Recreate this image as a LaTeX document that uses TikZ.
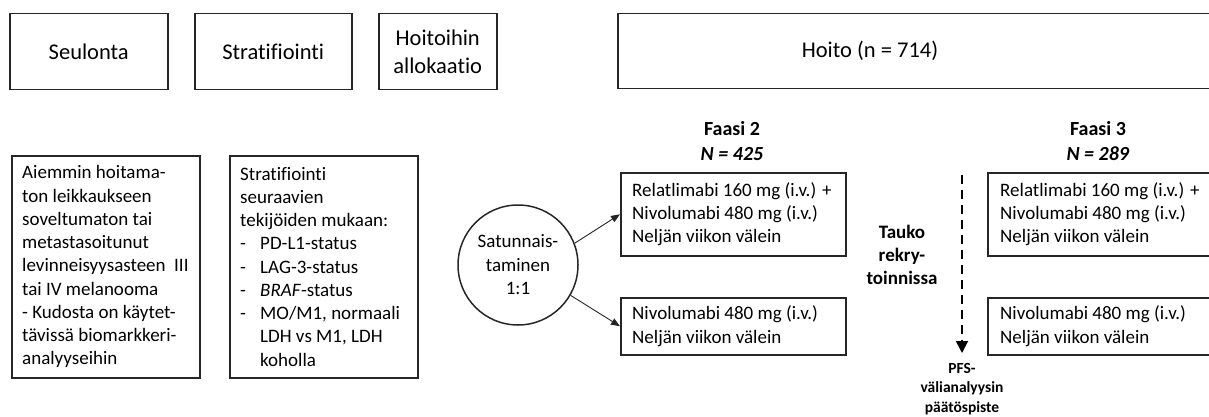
\documentclass[tikz,border=0pt]{standalone}
\usepackage{fontspec}
\setmainfont[Ligatures={NoCommon}]{Carlito}
\usetikzlibrary{arrows.meta,calc}
\begin{document}
\begin{tikzpicture}[x=1pt,y=-1pt,
  box/.style={draw=black!85, line width=1.5pt, inner sep=0},
  hdr/.style={font=\fontsize{22.5}{28}\selectfont, align=center},
  body/.style={font=\fontsize{19}{23.25}\selectfont, align=left, inner sep=0, anchor=west},
  phase/.style={font={\fontsize{20}{25}\selectfont\bfseries}, align=center},
  conn/.style={draw=black!85, line width=0.9pt, -{Triangle[length=9pt,width=7pt]}},
  dashconn/.style={draw=black, line width=1.8pt, dash pattern=on 9pt off 6pt, -{Triangle[length=12pt,width=12pt]}}
]
\useasboundingbox (0,0) rectangle (1209,417);
\clip (0,0) rectangle (1209,417);
% header boxes
\node[box, hdr, minimum width=158, minimum height=76, anchor=north west] (seul) at (9,13) {Seulonta};
\node[box, hdr, minimum width=157, minimum height=76, anchor=north west] (strat) at (194,13) {Stratifiointi};
\node[box, hdr, minimum width=118, minimum height=76, anchor=north west] (alloc) at (378,13) {Hoitoihin\\allokaatio};
\node[box, minimum width=620, minimum height=75, anchor=north west] (hoito) at (617,13) {};
\node[hdr] (hoitolbl) at (870,51) {Hoito (n = 714)};
% left boxes
\node[box, minimum width=188, minimum height=222, anchor=north west] (crit) at (11,155) {};
\node[body] (crittxt) at ($(crit.west)+(11,0)$) {Aiemmin hoitama-\\ton leikkaukseen\\soveltumaton tai\\metastasoitunut\\levinneisyysasteen\hspace{0.45em}III\\tai IV melanooma\\- Kudosta on käytet-\\tävissä biomarkkeri-\\analyyseihin};
\node[box, minimum width=188, minimum height=222, anchor=north west] (stratbox) at (229,155) {};
\node[body] (strattxt) at ($(stratbox.west)+(11,0)$) {Stratifiointi\\seuraavien\\tekijöiden mukaan:\\\makebox[20pt][l]{-}PD-L1-status\\\makebox[20pt][l]{-}LAG-3-status\\\makebox[20pt][l]{-}\textit{BRAF}-status\\\makebox[20pt][l]{-}MO/M1, normaali\\\hspace*{20pt}LDH vs M1, LDH\\\hspace*{20pt}koholla};
% randomisation
\node[draw=black!85, line width=1.5pt, circle, minimum size=120, inner sep=0, align=center, font=\fontsize{19}{23.5}\selectfont] (rand) at (518,265) {Satunnais-\\taminen\\1:1};
% phase 2
\node[phase] (f2) at (732,141) {Faasi 2\\\textit{N = 425}};
\node[box, minimum width=225, minimum height=83, anchor=north west] (p2a) at (620,172) {};
\node[body] (p2atxt) at ($(p2a.west)+(12,0)$) {Relatlimabi 160 mg (i.v.) +\\Nivolumabi 480 mg (i.v.)\\Neljän viikon välein};
\node[box, minimum width=225, minimum height=57, anchor=north west] (p2b) at (620,297) {};
\node[body] (p2btxt) at ($(p2b.west)+(12,0)$) {Nivolumabi 480 mg (i.v.)\\Neljän viikon välein};
\draw[conn] (rand.21) -- (p2a.west);
\draw[conn] (rand.-30) -- (p2b.west);
% pause
\node[font={\fontsize{19}{23}\selectfont\bfseries}, align=center] (tauko) at (902,255) {Tauko\\rekry-\\toinnissa};
\coordinate (dtop) at (962,175);
\coordinate (dbot) at (962,353);
\draw[dashconn] (dtop) -- (dbot);
\node[font={\fontsize{15.5}{19.5}\selectfont\bfseries}, align=center] (pfs) at (962,389) {PFS-\\välianalyysin\\päätöspiste};
% phase 3
\node[phase] (f3) at (1098,141) {Faasi 3\\\textit{N = 289}};
\node[box, minimum width=226, minimum height=83, anchor=north west] (p3a) at (987,172) {};
\node[body] (p3atxt) at ($(p3a.west)+(13,0)$) {Relatlimabi 160 mg (i.v.) +\\Nivolumabi 480 mg (i.v.)\\Neljän viikon välein};
\node[box, minimum width=226, minimum height=57, anchor=north west] (p3b) at (987,297) {};
\node[body] (p3btxt) at ($(p3b.west)+(13,0)$) {Nivolumabi 480 mg (i.v.)\\Neljän viikon välein};
\end{tikzpicture}
\end{document}
